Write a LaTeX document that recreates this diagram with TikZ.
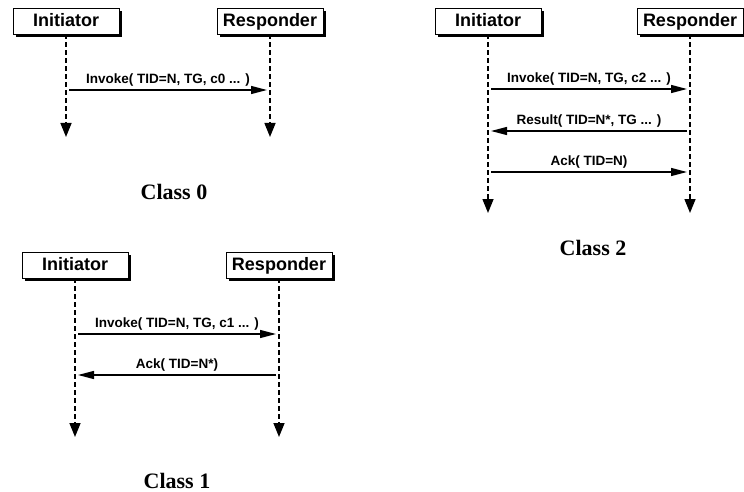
\documentclass[tikz,border=0pt]{standalone}
\usepackage{fontspec}
\setmainfont{Liberation Serif}
\setsansfont{Liberation Sans}
\usetikzlibrary{arrows.meta,shadows}

\begin{document}
\begin{tikzpicture}[x=1pt, y=-1pt,
        actor/.style={draw, line width=0.8pt, fill=white, inner sep=2pt,
            minimum width=106pt, minimum height=26pt, text height=13pt, text depth=2pt,
            font=\sffamily\bfseries\fontsize{18}{20}\selectfont,
            drop shadow={shadow xshift=3pt, shadow yshift=-3pt, fill=black, opacity=1}},
        life/.style={line width=1.5pt, dash pattern=on 5pt off 3pt, -{Triangle[length=14pt, width=11pt]}},
        msg/.style={line width=1.3pt, -{Triangle[length=16pt, width=8pt]}},
        msglabel/.style={above, inner sep=3.5pt, font=\sffamily\bfseries\fontsize{13.5}{15}\selectfont},
        title/.style={font=\bfseries\fontsize{22}{24}\selectfont},
    ]
    \useasboundingbox (0,0) rectangle (744,492);

    % Class 0
    \node[actor] (ini0) at (66,21) {Initiator};
    \node[actor] (res0) at (270,21) {Responder};
    \coordinate (ini0end) at (66,137);
    \coordinate (res0end) at (270,137);
    \foreach \a in {ini0,res0} \draw[life] (\a) -- (\a end);
    \coordinate (inv0a) at (69,90); \coordinate (inv0b) at (267,90);
    \draw[msg] (inv0a) -- node[msglabel] {Invoke( TID=N, TG, c0 ... )} (inv0b);
    \node[title] (cls0) at (174,192) {Class 0};

    % Class 1
    \node[actor] (ini1) at (75,265) {Initiator};
    \node[actor] (res1) at (279,265) {Responder};
    \coordinate (ini1end) at (75,437);
    \coordinate (res1end) at (279,437);
    \foreach \a in {ini1,res1} \draw[life] (\a) -- (\a end);
    \coordinate (inv1a) at (78,334); \coordinate (inv1b) at (276,334);
    \draw[msg] (inv1a) -- node[msglabel] {Invoke( TID=N, TG, c1 ... )} (inv1b);
    \coordinate (ack1a) at (276,375); \coordinate (ack1b) at (78,375);
    \draw[msg] (ack1a) -- node[msglabel] {Ack( TID=N*)} (ack1b);
    \node[title] (cls1) at (177,481) {Class 1};

    % Class 2
    \node[actor] (ini2) at (488,21) {Initiator};
    \node[actor] (res2) at (690,21) {Responder};
    \coordinate (ini2end) at (488,213);
    \coordinate (res2end) at (690,213);
    \foreach \a in {ini2,res2} \draw[life] (\a) -- (\a end);
    \coordinate (inv2a) at (491,89); \coordinate (inv2b) at (687,89);
    \draw[msg] (inv2a) -- node[msglabel] {Invoke( TID=N, TG, c2 ... )} (inv2b);
    \coordinate (res2a) at (687,131); \coordinate (res2b) at (491,131);
    \draw[msg] (res2a) -- node[msglabel] {Result( TID=N*, TG ... )} (res2b);
    \coordinate (ack2a) at (491,172); \coordinate (ack2b) at (687,172);
    \draw[msg] (ack2a) -- node[msglabel] {Ack( TID=N)} (ack2b);
    \node[title] (cls2) at (593,248) {Class 2};
\end{tikzpicture}
\end{document}
